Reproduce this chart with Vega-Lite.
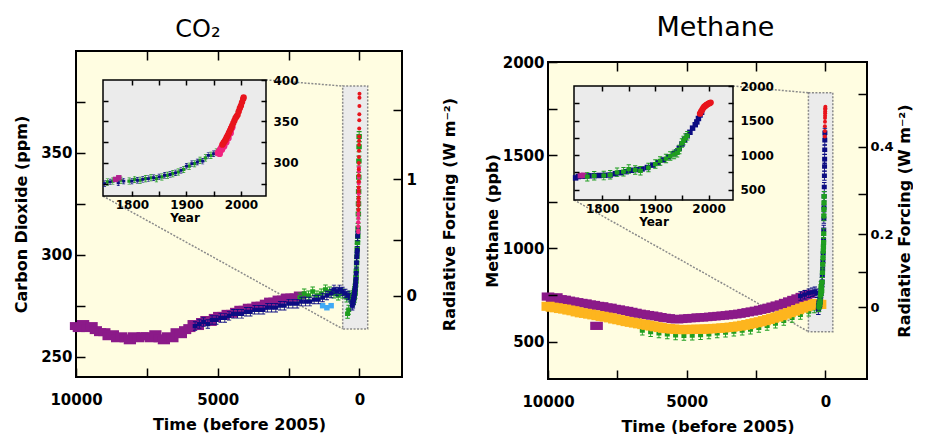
{
"$schema": "https://vega.github.io/schema/vega-lite/v6.json",
"background": "white",
"padding": {"left": 12, "top": 14, "right": 0, "bottom": 0},
"spacing": 25,
"config": {
  "view": {"fill": "#fffde1", "stroke": "black", "strokeWidth": 2},
  "axis": {"labelFont": "DejaVu Sans", "labelFontWeight": "bold", "labelFontSize": 15, "labelColor": "black",
           "titleFont": "DejaVu Sans", "titleFontWeight": "bold", "titleFontSize": 16, "titleColor": "black",
           "tickColor": "black", "tickWidth": 1.5, "domain": false, "grid": false, "labelFlush": false, "labelOverlap": false, "labelBound": false},
  "title": {"font": "DejaVu Sans", "fontWeight": "normal", "color": "black", "frame": "group"}
},
"datasets": {
  "co2m": [
    {"t":10000,"v":265,"s":"p"},{"t":9900,"v":264,"s":"p"},{"t":9750,"v":266,"s":"p"},{"t":9600,"v":264,"s":"p"},{"t":9450,"v":265,"s":"p"},{"t":9300,"v":263,"s":"p"},{"t":9150,"v":262,"s":"p"},{"t":9000,"v":262,"s":"p"},{"t":8850,"v":260,"s":"p"},{"t":8700,"v":261,"s":"p"},{"t":8550,"v":259,"s":"p"},{"t":8400,"v":260,"s":"p"},{"t":8250,"v":259,"s":"p"},{"t":8100,"v":258,"s":"p"},{"t":7950,"v":260,"s":"p"},{"t":7800,"v":259,"s":"p"},{"t":7650,"v":260,"s":"p"},{"t":7500,"v":260,"s":"p"},{"t":7350,"v":259,"s":"p"},{"t":7200,"v":261,"s":"p"},{"t":7050,"v":259,"s":"p"},{"t":6900,"v":258,"s":"p"},{"t":6750,"v":260,"s":"p"},{"t":6600,"v":259,"s":"p"},{"t":6450,"v":262,"s":"p"},{"t":6300,"v":261,"s":"p"},{"t":6150,"v":263,"s":"p"},{"t":6000,"v":264,"s":"p"},{"t":5850,"v":266,"s":"p"},{"t":5700,"v":265,"s":"p"},{"t":5550,"v":267,"s":"p"},{"t":5400,"v":268,"s":"p"},{"t":5250,"v":267,"s":"p"},{"t":5100,"v":269,"s":"p"},{"t":4950,"v":270,"s":"p"},{"t":4800,"v":270,"s":"p"},{"t":4650,"v":271,"s":"p"},{"t":4500,"v":271,"s":"p"},{"t":4350,"v":272,"s":"p"},{"t":4200,"v":273,"s":"p"},{"t":4050,"v":273,"s":"p"},{"t":3900,"v":274,"s":"p"},{"t":3750,"v":274,"s":"p"},{"t":3600,"v":275,"s":"p"},{"t":3450,"v":275,"s":"p"},{"t":3300,"v":276,"s":"p"},{"t":3150,"v":277,"s":"p"},{"t":3000,"v":277,"s":"p"},{"t":2850,"v":278,"s":"p"},{"t":2700,"v":278,"s":"p"},{"t":2550,"v":279,"s":"p"},{"t":2400,"v":279,"s":"p"},{"t":2250,"v":279,"s":"p"},{"t":2100,"v":280,"s":"p"},
    {"t":2100,"v":279,"s":"g"},{"t":1950,"v":281,"s":"g"},{"t":1800,"v":280,"s":"g"},{"t":1650,"v":282,"s":"g"},{"t":1500,"v":280,"s":"g"},{"t":1350,"v":281,"s":"g"},{"t":1200,"v":283,"s":"g"},{"t":1050,"v":282,"s":"g"},{"t":900,"v":281,"s":"g"},{"t":750,"v":280,"s":"g"},{"t":600,"v":281,"s":"g"},{"t":450,"v":279,"s":"g"},{"t":420,"v":271,"s":"g"},{"t":380,"v":273,"s":"g"},{"t":350,"v":280,"s":"g"},
    {"t":1300,"v":275,"s":"b"},{"t":1150,"v":274,"s":"b"},{"t":1000,"v":275,"s":"b"},
    {"t":5800,"v":265,"s":"n"},{"t":5650,"v":266,"s":"n"},{"t":5500,"v":267,"s":"n"},{"t":5350,"v":266,"s":"n"},{"t":5200,"v":268,"s":"n"},{"t":5050,"v":268,"s":"n"},{"t":4900,"v":269,"s":"n"},{"t":4750,"v":269,"s":"n"},{"t":4600,"v":270,"s":"n"},{"t":4450,"v":271,"s":"n"},{"t":4300,"v":271,"s":"n"},{"t":4150,"v":271,"s":"n"},{"t":4000,"v":272,"s":"n"},{"t":3850,"v":272,"s":"n"},{"t":3700,"v":273,"s":"n"},{"t":3550,"v":273,"s":"n"},{"t":3400,"v":273,"s":"n"},{"t":3250,"v":274,"s":"n"},{"t":3100,"v":274,"s":"n"},{"t":2950,"v":274,"s":"n"},{"t":2800,"v":275,"s":"n"},{"t":2650,"v":275,"s":"n"},{"t":2500,"v":276,"s":"n"},{"t":2350,"v":276,"s":"n"},{"t":2200,"v":276,"s":"n"},{"t":2050,"v":277,"s":"n"},{"t":1900,"v":277,"s":"n"},{"t":1750,"v":277,"s":"n"},{"t":1600,"v":278,"s":"n"},{"t":1450,"v":278,"s":"n"},{"t":1300,"v":279,"s":"n"},{"t":1150,"v":280,"s":"n"},{"t":1000,"v":281,"s":"n"},{"t":900,"v":283,"s":"n"},{"t":800,"v":282,"s":"n"},{"t":700,"v":283,"s":"n"},{"t":600,"v":282,"s":"n"},{"t":500,"v":281,"s":"n"},{"t":400,"v":280,"s":"n"},{"t":320,"v":279,"s":"n"},{"t":280,"v":277,"s":"n"}
  ],
  "co2r": [
    {"yr":1750,"t":255,"v":275,"s":"n"},{"yr":1760,"t":245,"v":277,"s":"n"},{"yr":1775,"t":230,"v":276,"s":"n"},{"yr":1785,"t":220,"v":278,"s":"n"},{"yr":1800,"t":205,"v":278,"s":"n"},{"yr":1810,"t":195,"v":279,"s":"n"},{"yr":1820,"t":185,"v":280,"s":"n"},{"yr":1830,"t":175,"v":281,"s":"n"},{"yr":1840,"t":165,"v":282,"s":"n"},{"yr":1850,"t":155,"v":283,"s":"n"},{"yr":1860,"t":145,"v":285,"s":"n"},{"yr":1870,"t":135,"v":286,"s":"n"},{"yr":1880,"t":125,"v":288,"s":"n"},{"yr":1890,"t":115,"v":291,"s":"n"},{"yr":1900,"t":105,"v":296,"s":"n"},{"yr":1910,"t":95,"v":299,"s":"n"},{"yr":1920,"t":85,"v":301,"s":"n"},{"yr":1930,"t":75,"v":302,"s":"n"},{"yr":1940,"t":65,"v":309,"s":"n"},{"yr":1950,"t":55,"v":311,"s":"n"},
    {"yr":1755,"t":250,"v":277,"s":"g"},{"yr":1765,"t":240,"v":278,"s":"g"},{"yr":1780,"t":225,"v":279,"s":"g"},{"yr":1795,"t":210,"v":278,"s":"g"},{"yr":1805,"t":200,"v":280,"s":"g"},{"yr":1815,"t":190,"v":279,"s":"g"},{"yr":1825,"t":180,"v":281,"s":"g"},{"yr":1835,"t":170,"v":282,"s":"g"},{"yr":1845,"t":160,"v":281,"s":"g"},{"yr":1855,"t":150,"v":283,"s":"g"},{"yr":1865,"t":140,"v":285,"s":"g"},{"yr":1875,"t":130,"v":287,"s":"g"},{"yr":1885,"t":120,"v":289,"s":"g"},{"yr":1895,"t":110,"v":292,"s":"g"},{"yr":1905,"t":100,"v":296,"s":"g"},{"yr":1915,"t":90,"v":299,"s":"g"},{"yr":1925,"t":80,"v":303,"s":"g"},{"yr":1935,"t":70,"v":306,"s":"g"},{"yr":1945,"t":60,"v":309,"s":"g"},{"yr":1955,"t":50,"v":313,"s":"g"},{"yr":1965,"t":40,"v":320,"s":"g"},{"yr":1970,"t":35,"v":325,"s":"g"},{"yr":1975,"t":30,"v":331,"s":"g"},{"yr":1980,"t":25,"v":338,"s":"g"},{"yr":1985,"t":20,"v":346,"s":"g"},{"yr":1990,"t":15,"v":353,"s":"g"},{"yr":1993,"t":12,"v":358,"s":"g"},
    {"yr":1770,"t":235,"v":280,"s":"p"},{"yr":1776,"t":229,"v":282,"s":"p"},
    {"yr":1958,"t":47,"v":312,"s":"k"},{"yr":1960,"t":45,"v":314,"s":"k"},{"yr":1962,"t":43,"v":316,"s":"k"},{"yr":1964,"t":41,"v":318,"s":"k"},{"yr":1966,"t":39,"v":320,"s":"k"},{"yr":1968,"t":37,"v":322,"s":"k"},{"yr":1970,"t":35,"v":325,"s":"k"},{"yr":1972,"t":33,"v":327,"s":"k"},{"yr":1974,"t":31,"v":330,"s":"k"},{"yr":1976,"t":29,"v":332,"s":"k"},{"yr":1978,"t":27,"v":335,"s":"k"},{"yr":1980,"t":25,"v":338,"s":"k"},{"yr":1982,"t":23,"v":341,"s":"k"},{"yr":1984,"t":21,"v":343,"s":"k"},{"yr":1961,"t":44,"v":311,"s":"k"},{"yr":1965,"t":40,"v":316,"s":"k"},{"yr":1969,"t":36,"v":320,"s":"k"},{"yr":1973,"t":32,"v":325,"s":"k"},{"yr":1977,"t":28,"v":330,"s":"k"},{"yr":1981,"t":24,"v":336,"s":"k"},
    {"yr":1966,"t":39,"v":322,"s":"r"},{"yr":1968,"t":37,"v":324,"s":"r"},{"yr":1970,"t":35,"v":326,"s":"r"},{"yr":1972,"t":33,"v":328,"s":"r"},{"yr":1974,"t":31,"v":331,"s":"r"},{"yr":1976,"t":29,"v":333,"s":"r"},{"yr":1978,"t":27,"v":336,"s":"r"},{"yr":1980,"t":25,"v":339,"s":"r"},{"yr":1982,"t":23,"v":342,"s":"r"},{"yr":1984,"t":21,"v":345,"s":"r"},{"yr":1986,"t":19,"v":348,"s":"r"},{"yr":1988,"t":17,"v":351,"s":"r"},{"yr":1990,"t":15,"v":354,"s":"r"},{"yr":1992,"t":13,"v":356,"s":"r"},{"yr":1994,"t":11,"v":358,"s":"r"},{"yr":1996,"t":9,"v":362,"s":"r"},{"yr":1998,"t":7,"v":366,"s":"r"},{"yr":2000,"t":5,"v":369,"s":"r"},{"yr":2002,"t":3,"v":373,"s":"r"},{"yr":2004,"t":1,"v":377,"s":"r"},{"yr":2005,"t":0,"v":379,"s":"r"}
  ],
  "co2box": [{"t1":592,"t2":-290,"v1":263.6,"v2":382.8}],
  "co2conn": [{"t1":9048,"v1":328.8,"t2":592,"v2":263.6},{"t1":3298,"v1":385.8,"t2":592,"v2":382.8}],
  "co2inset": [{"x1":1747,"x2":2046,"v1":260,"v2":400}],
  "ch4frame": [{"t1":10000,"t2":-1500,"v1":300,"v2":2000}],
  "ch4m": [
    {"t":6700,"v":645,"s":"g"},{"t":6600,"v":560,"s":"g"},{"t":6300,"v":552,"s":"g"},{"t":6000,"v":545,"s":"g"},{"t":5700,"v":540,"s":"g"},{"t":5400,"v":535,"s":"g"},{"t":5100,"v":532,"s":"g"},{"t":4800,"v":533,"s":"g"},{"t":4500,"v":536,"s":"g"},{"t":4200,"v":540,"s":"g"},{"t":3900,"v":545,"s":"g"},{"t":3600,"v":550,"s":"g"},{"t":3300,"v":555,"s":"g"},{"t":3000,"v":560,"s":"g"},{"t":2700,"v":566,"s":"g"},{"t":2400,"v":575,"s":"g"},{"t":2100,"v":585,"s":"g"},{"t":1800,"v":598,"s":"g"},{"t":1500,"v":612,"s":"g"},{"t":1200,"v":628,"s":"g"},{"t":900,"v":645,"s":"g"},{"t":600,"v":662,"s":"g"},{"t":400,"v":680,"s":"g"},{"t":250,"v":690,"s":"g"},
    {"t":10000,"v":742,"s":"p"},{"t":9850,"v":735,"s":"p"},{"t":9700,"v":738,"s":"p"},{"t":9550,"v":728,"s":"p"},{"t":9400,"v":725,"s":"p"},{"t":9250,"v":720,"s":"p"},{"t":9100,"v":716,"s":"p"},{"t":8950,"v":712,"s":"p"},{"t":8800,"v":708,"s":"p"},{"t":8650,"v":705,"s":"p"},{"t":8500,"v":700,"s":"p"},{"t":8350,"v":697,"s":"p"},{"t":8250,"v":585,"s":"p"},{"t":8200,"v":692,"s":"p"},{"t":8050,"v":690,"s":"p"},{"t":7900,"v":684,"s":"p"},{"t":7750,"v":682,"s":"p"},{"t":7600,"v":676,"s":"p"},{"t":7450,"v":673,"s":"p"},{"t":7300,"v":668,"s":"p"},{"t":7150,"v":665,"s":"p"},{"t":7000,"v":660,"s":"p"},{"t":6850,"v":655,"s":"p"},{"t":6700,"v":650,"s":"p"},{"t":6550,"v":647,"s":"p"},{"t":6400,"v":643,"s":"p"},{"t":6250,"v":640,"s":"p"},{"t":6100,"v":636,"s":"p"},{"t":5950,"v":632,"s":"p"},{"t":5800,"v":628,"s":"p"},{"t":5650,"v":626,"s":"p"},{"t":5500,"v":622,"s":"p"},{"t":5350,"v":620,"s":"p"},{"t":5200,"v":622,"s":"p"},{"t":5050,"v":624,"s":"p"},{"t":4900,"v":626,"s":"p"},{"t":4750,"v":627,"s":"p"},{"t":4600,"v":630,"s":"p"},{"t":4450,"v":630,"s":"p"},{"t":4300,"v":632,"s":"p"},{"t":4150,"v":634,"s":"p"},{"t":4000,"v":636,"s":"p"},{"t":3850,"v":638,"s":"p"},{"t":3700,"v":640,"s":"p"},{"t":3550,"v":642,"s":"p"},{"t":3400,"v":645,"s":"p"},{"t":3250,"v":647,"s":"p"},{"t":3100,"v":650,"s":"p"},{"t":2950,"v":654,"s":"p"},{"t":2800,"v":658,"s":"p"},{"t":2650,"v":662,"s":"p"},{"t":2500,"v":666,"s":"p"},{"t":2350,"v":671,"s":"p"},{"t":2200,"v":676,"s":"p"},{"t":2050,"v":682,"s":"p"},{"t":1900,"v":688,"s":"p"},{"t":1750,"v":694,"s":"p"},{"t":1600,"v":700,"s":"p"},{"t":1450,"v":708,"s":"p"},{"t":1300,"v":716,"s":"p"},{"t":1150,"v":724,"s":"p"},{"t":1000,"v":732,"s":"p"},{"t":850,"v":740,"s":"p"},{"t":700,"v":748,"s":"p"},{"t":580,"v":756,"s":"p"},
    {"t":10000,"v":690,"s":"o"},{"t":9850,"v":685,"s":"o"},{"t":9700,"v":682,"s":"o"},{"t":9550,"v":678,"s":"o"},{"t":9400,"v":675,"s":"o"},{"t":9250,"v":670,"s":"o"},{"t":9100,"v":666,"s":"o"},{"t":8950,"v":660,"s":"o"},{"t":8800,"v":655,"s":"o"},{"t":8650,"v":652,"s":"o"},{"t":8500,"v":648,"s":"o"},{"t":8350,"v":644,"s":"o"},{"t":8200,"v":640,"s":"o"},{"t":8050,"v":636,"s":"o"},{"t":7900,"v":632,"s":"o"},{"t":7750,"v":628,"s":"o"},{"t":7600,"v":622,"s":"o"},{"t":7450,"v":618,"s":"o"},{"t":7300,"v":613,"s":"o"},{"t":7150,"v":608,"s":"o"},{"t":7000,"v":604,"s":"o"},{"t":6850,"v":600,"s":"o"},{"t":6700,"v":596,"s":"o"},{"t":6550,"v":592,"s":"o"},{"t":6400,"v":588,"s":"o"},{"t":6250,"v":584,"s":"o"},{"t":6100,"v":580,"s":"o"},{"t":5950,"v":576,"s":"o"},{"t":5800,"v":572,"s":"o"},{"t":5650,"v":570,"s":"o"},{"t":5500,"v":568,"s":"o"},{"t":5350,"v":566,"s":"o"},{"t":5200,"v":565,"s":"o"},{"t":5050,"v":565,"s":"o"},{"t":4900,"v":566,"s":"o"},{"t":4750,"v":566,"s":"o"},{"t":4600,"v":567,"s":"o"},{"t":4450,"v":567,"s":"o"},{"t":4300,"v":568,"s":"o"},{"t":4150,"v":569,"s":"o"},{"t":4000,"v":571,"s":"o"},{"t":3850,"v":572,"s":"o"},{"t":3700,"v":574,"s":"o"},{"t":3550,"v":576,"s":"o"},{"t":3400,"v":578,"s":"o"},{"t":3250,"v":581,"s":"o"},{"t":3100,"v":584,"s":"o"},{"t":2950,"v":588,"s":"o"},{"t":2800,"v":592,"s":"o"},{"t":2650,"v":597,"s":"o"},{"t":2500,"v":602,"s":"o"},{"t":2350,"v":607,"s":"o"},{"t":2200,"v":613,"s":"o"},{"t":2050,"v":619,"s":"o"},{"t":1900,"v":626,"s":"o"},{"t":1750,"v":632,"s":"o"},{"t":1600,"v":640,"s":"o"},{"t":1450,"v":648,"s":"o"},{"t":1300,"v":656,"s":"o"},{"t":1150,"v":664,"s":"o"},{"t":1000,"v":672,"s":"o"},{"t":850,"v":680,"s":"o"},{"t":700,"v":688,"s":"o"},{"t":550,"v":695,"s":"o"},{"t":400,"v":700,"s":"o"},{"t":300,"v":705,"s":"o"},{"t":200,"v":700,"s":"o"},
    {"t":900,"v":745,"s":"n"},{"t":750,"v":752,"s":"n"},{"t":600,"v":760,"s":"n"},{"t":480,"v":765,"s":"n"},{"t":380,"v":770,"s":"n"},{"t":300,"v":760,"s":"n"}
  ],
  "ch4r": [
    {"yr":1750,"t":255,"v":670,"s":"n"},{"yr":1755,"t":250,"v":690,"s":"n"},{"yr":1765,"t":240,"v":695,"s":"n"},{"yr":1775,"t":230,"v":700,"s":"n"},{"yr":1785,"t":220,"v":702,"s":"n"},{"yr":1795,"t":210,"v":705,"s":"n"},{"yr":1805,"t":200,"v":708,"s":"n"},{"yr":1815,"t":190,"v":712,"s":"n"},{"yr":1825,"t":180,"v":730,"s":"n"},{"yr":1835,"t":170,"v":745,"s":"n"},{"yr":1845,"t":160,"v":760,"s":"n"},{"yr":1855,"t":150,"v":780,"s":"n"},{"yr":1865,"t":140,"v":790,"s":"n"},{"yr":1875,"t":130,"v":800,"s":"n"},{"yr":1885,"t":120,"v":820,"s":"n"},{"yr":1895,"t":110,"v":855,"s":"n"},{"yr":1905,"t":100,"v":890,"s":"n"},{"yr":1915,"t":90,"v":930,"s":"n"},{"yr":1925,"t":80,"v":975,"s":"n"},{"yr":1935,"t":70,"v":1020,"s":"n"},{"yr":1940,"t":65,"v":1045,"s":"n"},{"yr":1945,"t":60,"v":1100,"s":"n"},{"yr":1950,"t":55,"v":1160,"s":"n"},{"yr":1955,"t":50,"v":1220,"s":"n"},{"yr":1960,"t":45,"v":1280,"s":"n"},{"yr":1965,"t":40,"v":1330,"s":"n"},{"yr":1970,"t":35,"v":1390,"s":"n"},{"yr":1975,"t":30,"v":1440,"s":"n"},{"yr":1978,"t":27,"v":1480,"s":"n"},{"yr":1981,"t":24,"v":1530,"s":"n"},{"yr":1984,"t":21,"v":1580,"s":"n"},{"yr":1987,"t":18,"v":1620,"s":"n"},
    {"yr":1772,"t":233,"v":688,"s":"g"},{"yr":1785,"t":220,"v":700,"s":"g"},{"yr":1803,"t":202,"v":703,"s":"g"},{"yr":1815,"t":190,"v":715,"s":"g"},{"yr":1828,"t":177,"v":750,"s":"g"},{"yr":1840,"t":165,"v":760,"s":"g"},{"yr":1850,"t":155,"v":797,"s":"g"},{"yr":1862,"t":143,"v":785,"s":"g"},{"yr":1872,"t":133,"v":773,"s":"g"},{"yr":1887,"t":118,"v":820,"s":"g"},{"yr":1900,"t":105,"v":870,"s":"g"},{"yr":1909,"t":96,"v":915,"s":"g"},{"yr":1920,"t":85,"v":950,"s":"g"},{"yr":1928,"t":77,"v":986,"s":"g"},{"yr":1935,"t":70,"v":1010,"s":"g"},{"yr":1941,"t":64,"v":1033,"s":"g"},{"yr":1945,"t":60,"v":1080,"s":"g"},{"yr":1950,"t":55,"v":1174,"s":"g"},{"yr":1953,"t":52,"v":1210,"s":"g"},{"yr":1956,"t":49,"v":1245,"s":"g"},{"yr":1960,"t":45,"v":1280,"s":"g"},
    {"yr":1759,"t":246,"v":703,"s":"p"},{"yr":1765,"t":240,"v":708,"s":"p"},
    {"yr":1984,"t":21,"v":1600,"s":"r"},{"yr":1986,"t":19,"v":1630,"s":"r"},{"yr":1988,"t":17,"v":1655,"s":"r"},{"yr":1990,"t":15,"v":1680,"s":"r"},{"yr":1992,"t":13,"v":1700,"s":"r"},{"yr":1994,"t":11,"v":1712,"s":"r"},{"yr":1996,"t":9,"v":1725,"s":"r"},{"yr":1998,"t":7,"v":1735,"s":"r"},{"yr":2000,"t":5,"v":1745,"s":"r"},{"yr":2002,"t":3,"v":1752,"s":"r"},{"yr":2004,"t":1,"v":1760,"s":"r"}
  ],
  "ch4box": [{"t1":612,"t2":-268,"v1":554,"v2":1835}],
  "ch4conn": [{"t1":9063,"v1":1260,"t2":612,"v2":554},{"t1":3331,"v1":1871,"t2":612,"v2":1835}],
  "ch4inset": [{"x1":1747,"x2":2046,"v1":350,"v2":2000}]
},
"hconcat": [
{
  "title": {"text": "CO₂", "fontSize": 24, "dx": -41, "offset": 8},
  "width": 326, "height": 326,
  "resolve": {"scale": {"x": "independent", "y": "independent"}},
  "layer": [
    {
      "resolve": {"axis": {"x": "independent", "y": "independent"}},
      "layer": [
        {"data": {"name": "co2box"},
         "mark": {"type": "rect", "fill": "#ebebeb", "stroke": "#8a8a8a", "strokeDash": [2, 1.5], "strokeWidth": 1.5},
         "encoding": {
           "x": {"field": "t1", "type": "quantitative", "scale": {"domain": [10000, -1500], "nice": false, "zero": false},
                 "axis": {"zindex": 1, "orient": "bottom", "values": [10000, 7500, 5000, 2500, 0], "format": "d", "labelExpr": "datum.value % 5000 == 0 ? datum.label : ''", "tickSize": -9, "labelPadding": 24, "title": "Time (before 2005)", "titlePadding": 9}},
           "x2": {"field": "t2"},
           "y": {"field": "v1", "type": "quantitative", "scale": {"domain": [240, 400], "nice": false, "zero": false},
                 "axis": {"zindex": 1, "orient": "left", "values": [250, 275, 300, 325, 350, 375], "labelExpr": "datum.value % 50 == 0 ? datum.label : ''", "tickSize": -9, "labelPadding": 13, "title": "Carbon Dioxide (ppm)", "titlePadding": 11}},
           "y2": {"field": "v2"}}},
        {"data": {"name": "co2conn"},
         "mark": {"type": "rule", "stroke": "#8a8a8a", "strokeDash": [2, 1.5], "strokeWidth": 1.5},
         "encoding": {
           "x": {"field": "t1", "type": "quantitative", "scale": {"domain": [10000, -1500], "nice": false, "zero": false},
                 "axis": {"zindex": 1, "orient": "top", "values": [7500, 5000, 2500, 0], "labels": false, "tickSize": -9, "title": null}},
           "x2": {"field": "t2"},
           "y": {"field": "v1", "type": "quantitative", "scale": {"domain": [240, 400], "nice": false, "zero": false},
                 "axis": {"zindex": 1, "orient": "right", "values": [280, 307, 337, 371], "labelExpr": "datum.value == 280 ? '0' : (datum.value == 337 ? '1' : '')", "tickSize": -9, "labelPadding": 13, "title": "Radiative Forcing (W m⁻²)", "titleAngle": 270, "titleBaseline": "top", "titlePadding": 25}},
           "y2": {"field": "v2"}}},
        {"data": {"name": "co2m"}, "transform": [{"filter": "datum.s == 'p'"}],
         "mark": {"type": "point", "filled": true, "opacity": 1, "strokeWidth": 0, "shape": "M-1,-0.65H1V0.65H-1Z", "size": 150, "color": "#8b1a89"},
         "encoding": {"x": {"field": "t", "type": "quantitative", "scale": {"domain": [10000, -1500], "nice": false, "zero": false}, "axis": null},
                      "y": {"field": "v", "type": "quantitative", "scale": {"domain": [240, 400], "nice": false, "zero": false}, "axis": null}}},
        {"data": {"name": "co2m"}, "transform": [{"filter": "datum.s == 'g'"}],
         "mark": {"type": "point", "filled": true, "opacity": 1, "strokeWidth": 0, "shape": "M-0.5,-0.45H0.5V0.45H-0.5Z M-0.09,-1H0.09V1H-0.09Z M-0.45,-1H0.45V-0.8H-0.45Z M-0.45,0.8H0.45V1H-0.45Z", "size": 100, "color": "#1f9e1f"},
         "encoding": {"x": {"field": "t", "type": "quantitative", "scale": {"domain": [10000, -1500], "nice": false, "zero": false}, "axis": null},
                      "y": {"field": "v", "type": "quantitative", "scale": {"domain": [240, 400], "nice": false, "zero": false}, "axis": null}}},
        {"data": {"name": "co2m"}, "transform": [{"filter": "datum.s == 'b'"}],
         "mark": {"type": "point", "filled": true, "opacity": 1, "strokeWidth": 0, "shape": "square", "size": 30, "color": "#3fa9f5"},
         "encoding": {"x": {"field": "t", "type": "quantitative", "scale": {"domain": [10000, -1500], "nice": false, "zero": false}, "axis": null},
                      "y": {"field": "v", "type": "quantitative", "scale": {"domain": [240, 400], "nice": false, "zero": false}, "axis": null}}},
        {"data": {"name": "co2m"}, "transform": [{"filter": "datum.s == 'n'"}],
         "mark": {"type": "point", "filled": true, "opacity": 1, "strokeWidth": 0, "shape": "M-0.5,-0.45H0.5V0.45H-0.5Z M-0.09,-1H0.09V1H-0.09Z M-0.45,-1H0.45V-0.8H-0.45Z M-0.45,0.8H0.45V1H-0.45Z", "size": 90, "color": "#0c0c82"},
         "encoding": {"x": {"field": "t", "type": "quantitative", "scale": {"domain": [10000, -1500], "nice": false, "zero": false}, "axis": null},
                      "y": {"field": "v", "type": "quantitative", "scale": {"domain": [240, 400], "nice": false, "zero": false}, "axis": null}}},
        {"data": {"name": "co2r"}, "transform": [{"filter": "datum.s == 'g'"}],
         "mark": {"type": "point", "filled": true, "opacity": 1, "strokeWidth": 0, "shape": "M-0.5,-0.45H0.5V0.45H-0.5Z M-0.09,-1H0.09V1H-0.09Z M-0.45,-1H0.45V-0.8H-0.45Z M-0.45,0.8H0.45V1H-0.45Z", "size": 120, "color": "#1f9e1f"},
         "encoding": {"x": {"field": "t", "type": "quantitative", "scale": {"domain": [10000, -1500], "nice": false, "zero": false}, "axis": null},
                      "y": {"field": "v", "type": "quantitative", "scale": {"domain": [240, 400], "nice": false, "zero": false}, "axis": null}}},
        {"data": {"name": "co2r"}, "transform": [{"filter": "datum.s == 'n'"}],
         "mark": {"type": "point", "filled": true, "opacity": 1, "strokeWidth": 0, "shape": "M-0.5,-0.45H0.5V0.45H-0.5Z M-0.09,-1H0.09V1H-0.09Z M-0.45,-1H0.45V-0.8H-0.45Z M-0.45,0.8H0.45V1H-0.45Z", "size": 90, "color": "#0c0c82"},
         "encoding": {"x": {"field": "t", "type": "quantitative", "scale": {"domain": [10000, -1500], "nice": false, "zero": false}, "axis": null},
                      "y": {"field": "v", "type": "quantitative", "scale": {"domain": [240, 400], "nice": false, "zero": false}, "axis": null}}},
        {"data": {"name": "co2r"}, "transform": [{"filter": "datum.s == 'k'"}],
         "mark": {"type": "point", "filled": true, "opacity": 1, "strokeWidth": 0, "shape": "circle", "size": 16, "color": "#f0237f"},
         "encoding": {"x": {"field": "t", "type": "quantitative", "scale": {"domain": [10000, -1500], "nice": false, "zero": false}, "axis": null},
                      "y": {"field": "v", "type": "quantitative", "scale": {"domain": [240, 400], "nice": false, "zero": false}, "axis": null}}},
        {"data": {"name": "co2r"}, "transform": [{"filter": "datum.s == 'r'"}],
         "mark": {"type": "point", "filled": true, "opacity": 1, "strokeWidth": 0, "shape": "circle", "size": 16, "color": "#e8141c"},
         "encoding": {"x": {"field": "t", "type": "quantitative", "scale": {"domain": [10000, -1500], "nice": false, "zero": false}, "axis": null},
                      "y": {"field": "v", "type": "quantitative", "scale": {"domain": [240, 400], "nice": false, "zero": false}, "axis": null}}}
      ]
    },
    {
      "resolve": {"axis": {"x": "independent", "y": "independent"}},
      "layer": [
        {"data": {"name": "co2inset"},
         "mark": {"type": "rect", "fill": "#ebebeb", "stroke": "black", "strokeWidth": 1.5},
         "encoding": {
           "x": {"field": "x1", "type": "quantitative", "scale": {"domain": [1747, 2046], "range": [27, 190], "nice": false, "zero": false},
                 "axis": {"zindex": 1, "orient": "bottom", "offset": -181, "values": [1800, 1850, 1900, 1950, 2000], "format": "d", "labelExpr": "datum.value % 100 == 0 ? datum.label : ''", "tickSize": -5, "labelFontSize": 12, "labelPadding": 8, "title": "Year", "titleFontSize": 12, "titlePadding": 2}},
           "x2": {"field": "x2"},
           "y": {"field": "v1", "type": "quantitative", "scale": {"domain": [260, 400], "range": [145, 29], "nice": false, "zero": false},
                 "axis": {"zindex": 1, "orient": "right", "offset": -136, "values": [275, 300, 325, 350, 375, 400], "labelExpr": "datum.value % 50 == 0 ? datum.label : ''", "tickSize": -5, "labelFontSize": 12, "labelPadding": 12, "title": null}},
           "y2": {"field": "v2"}}},
        {"data": {"name": "co2r"}, "transform": [{"filter": "datum.s == 'g'"}],
         "mark": {"type": "point", "filled": true, "opacity": 1, "strokeWidth": 0, "shape": "M-0.5,-0.45H0.5V0.45H-0.5Z M-0.09,-1H0.09V1H-0.09Z M-0.45,-1H0.45V-0.8H-0.45Z M-0.45,0.8H0.45V1H-0.45Z", "size": 50, "color": "#1f9e1f"},
         "encoding": {"x": {"field": "yr", "type": "quantitative", "scale": {"domain": [1747, 2046], "range": [27, 190], "nice": false, "zero": false},
                            "axis": {"zindex": 1, "orient": "top", "offset": -29, "values": [1800, 1850, 1900, 1950, 2000], "labels": false, "tickSize": -5, "title": null}},
                      "y": {"field": "v", "type": "quantitative", "scale": {"domain": [260, 400], "range": [145, 29], "nice": false, "zero": false},
                            "axis": {"zindex": 1, "orient": "left", "offset": -27, "values": [275, 300, 325, 350, 375], "labels": false, "tickSize": -5, "title": null}}}},
        {"data": {"name": "co2r"}, "transform": [{"filter": "datum.s == 'n'"}],
         "mark": {"type": "point", "filled": true, "opacity": 1, "strokeWidth": 0, "shape": "M-0.5,-0.45H0.5V0.45H-0.5Z M-0.09,-1H0.09V1H-0.09Z M-0.45,-1H0.45V-0.8H-0.45Z M-0.45,0.8H0.45V1H-0.45Z", "size": 40, "color": "#0c0c82"},
         "encoding": {"x": {"field": "yr", "type": "quantitative", "scale": {"domain": [1747, 2046], "range": [27, 190], "nice": false, "zero": false}, "axis": null},
                      "y": {"field": "v", "type": "quantitative", "scale": {"domain": [260, 400], "range": [145, 29], "nice": false, "zero": false}, "axis": null}}},
        {"data": {"name": "co2r"}, "transform": [{"filter": "datum.s == 'p'"}],
         "mark": {"type": "point", "filled": true, "opacity": 1, "strokeWidth": 0, "shape": "square", "size": 30, "color": "#b0208f"},
         "encoding": {"x": {"field": "yr", "type": "quantitative", "scale": {"domain": [1747, 2046], "range": [27, 190], "nice": false, "zero": false}, "axis": null},
                      "y": {"field": "v", "type": "quantitative", "scale": {"domain": [260, 400], "range": [145, 29], "nice": false, "zero": false}, "axis": null}}},
        {"data": {"name": "co2r"}, "transform": [{"filter": "datum.s == 'k'"}],
         "mark": {"type": "point", "filled": true, "opacity": 1, "strokeWidth": 0, "shape": "circle", "size": 45, "color": "#f0237f"},
         "encoding": {"x": {"field": "yr", "type": "quantitative", "scale": {"domain": [1747, 2046], "range": [27, 190], "nice": false, "zero": false}, "axis": null},
                      "y": {"field": "v", "type": "quantitative", "scale": {"domain": [260, 400], "range": [145, 29], "nice": false, "zero": false}, "axis": null}}},
        {"data": {"name": "co2r"}, "transform": [{"filter": "datum.s == 'r'"}],
         "mark": {"type": "point", "filled": true, "opacity": 1, "strokeWidth": 0, "shape": "circle", "size": 40, "color": "#e8141c"},
         "encoding": {"x": {"field": "yr", "type": "quantitative", "scale": {"domain": [1747, 2046], "range": [27, 190], "nice": false, "zero": false}, "axis": null},
                      "y": {"field": "v", "type": "quantitative", "scale": {"domain": [260, 400], "range": [145, 29], "nice": false, "zero": false}, "axis": null}}}
      ]
    }
  ]
},
{
  "title": {"text": "Methane", "fontSize": 27, "dx": 8, "offset": 9},
  "width": 319, "height": 328,
  "view": {"fill": null, "stroke": null},
  "resolve": {"scale": {"x": "independent", "y": "independent"}},
  "layer": [
    {
      "resolve": {"axis": {"x": "independent", "y": "independent"}},
      "layer": [
        {"data": {"name": "ch4frame"},
         "mark": {"type": "rect", "fill": "#fffde1", "stroke": "black", "strokeWidth": 2},
         "encoding": {
           "x": {"field": "t1", "type": "quantitative", "scale": {"domain": [10000, -1500], "nice": false, "zero": false},
                 "axis": {"zindex": 1, "orient": "bottom", "values": [10000, 7500, 5000, 2500, 0], "format": "d", "labelExpr": "datum.value % 5000 == 0 ? datum.label : ''", "tickSize": -9, "labelPadding": 24, "title": "Time (before 2005)", "titlePadding": 9}},
           "x2": {"field": "t2"},
           "y": {"field": "v1", "type": "quantitative", "scale": {"domain": [300, 2000], "range": [328, 11], "nice": false, "zero": false},
                 "axis": {"zindex": 1, "orient": "left", "values": [500, 750, 1000, 1250, 1500, 1750, 2000], "format": "d", "labelExpr": "datum.value % 500 == 0 ? datum.label : ''", "tickSize": -9, "labelPadding": 13, "title": "Methane (ppb)", "titlePadding": 2}},
           "y2": {"field": "v2"}}},
        {"data": {"name": "ch4box"},
         "mark": {"type": "rect", "fill": "#ebebeb", "stroke": "#8a8a8a", "strokeDash": [2, 1.5], "strokeWidth": 1.5},
         "encoding": {
           "x": {"field": "t1", "type": "quantitative", "scale": {"domain": [10000, -1500], "nice": false, "zero": false},
                 "axis": {"zindex": 1, "orient": "top", "offset": -11, "values": [7500, 5000, 2500, 0], "labels": false, "tickSize": -9, "title": null}},
           "x2": {"field": "t2"},
           "y": {"field": "v1", "type": "quantitative", "scale": {"domain": [300, 2000], "range": [328, 11], "nice": false, "zero": false},
                 "axis": {"zindex": 1, "orient": "right", "values": [686, 874, 1076, 1294, 1546, 1827], "labelExpr": "datum.value == 686 ? '0' : (datum.value == 1076 ? '0.2' : (datum.value == 1546 ? '0.4' : ''))", "tickSize": -9, "labelPadding": 12, "labelFontSize": 13, "title": "Radiative Forcing (W m⁻²)", "titleAngle": 270, "titleBaseline": "top", "titlePadding": 3}},
           "y2": {"field": "v2"}}},
        {"data": {"name": "ch4conn"},
         "mark": {"type": "rule", "stroke": "#8a8a8a", "strokeDash": [2, 1.5], "strokeWidth": 1.5},
         "encoding": {
           "x": {"field": "t1", "type": "quantitative", "scale": {"domain": [10000, -1500], "nice": false, "zero": false}, "axis": null},
           "x2": {"field": "t2"},
           "y": {"field": "v1", "type": "quantitative", "scale": {"domain": [300, 2000], "range": [328, 11], "nice": false, "zero": false}, "axis": null},
           "y2": {"field": "v2"}}},
        {"data": {"name": "ch4m"}, "transform": [{"filter": "datum.s == 'g'"}],
         "mark": {"type": "point", "filled": true, "opacity": 1, "strokeWidth": 0, "shape": "M-0.5,-0.45H0.5V0.45H-0.5Z M-0.09,-1H0.09V1H-0.09Z M-0.45,-1H0.45V-0.8H-0.45Z M-0.45,0.8H0.45V1H-0.45Z", "size": 100, "color": "#1f9e1f"},
         "encoding": {"x": {"field": "t", "type": "quantitative", "scale": {"domain": [10000, -1500], "nice": false, "zero": false}, "axis": null},
                      "y": {"field": "v", "type": "quantitative", "scale": {"domain": [300, 2000], "range": [328, 11], "nice": false, "zero": false}, "axis": null}}},
        {"data": {"name": "ch4m"}, "transform": [{"filter": "datum.s == 'p'"}],
         "mark": {"type": "point", "filled": true, "opacity": 1, "strokeWidth": 0, "shape": "M-1,-0.65H1V0.65H-1Z", "size": 160, "color": "#8b1a89"},
         "encoding": {"x": {"field": "t", "type": "quantitative", "scale": {"domain": [10000, -1500], "nice": false, "zero": false}, "axis": null},
                      "y": {"field": "v", "type": "quantitative", "scale": {"domain": [300, 2000], "range": [328, 11], "nice": false, "zero": false}, "axis": null}}},
        {"data": {"name": "ch4m"}, "transform": [{"filter": "datum.s == 'o'"}],
         "mark": {"type": "point", "filled": true, "opacity": 1, "strokeWidth": 0, "shape": "M-1,-0.7H1V0.7H-1Z", "size": 170, "color": "#fdb51e"},
         "encoding": {"x": {"field": "t", "type": "quantitative", "scale": {"domain": [10000, -1500], "nice": false, "zero": false}, "axis": null},
                      "y": {"field": "v", "type": "quantitative", "scale": {"domain": [300, 2000], "range": [328, 11], "nice": false, "zero": false}, "axis": null}}},
        {"data": {"name": "ch4m"}, "transform": [{"filter": "datum.s == 'n'"}],
         "mark": {"type": "point", "filled": true, "opacity": 1, "strokeWidth": 0, "shape": "M-0.5,-0.45H0.5V0.45H-0.5Z M-0.09,-1H0.09V1H-0.09Z M-0.45,-1H0.45V-0.8H-0.45Z M-0.45,0.8H0.45V1H-0.45Z", "size": 90, "color": "#0c0c82"},
         "encoding": {"x": {"field": "t", "type": "quantitative", "scale": {"domain": [10000, -1500], "nice": false, "zero": false}, "axis": null},
                      "y": {"field": "v", "type": "quantitative", "scale": {"domain": [300, 2000], "range": [328, 11], "nice": false, "zero": false}, "axis": null}}},
        {"data": {"name": "ch4r"}, "transform": [{"filter": "datum.s == 'n'"}],
         "mark": {"type": "point", "filled": true, "opacity": 1, "strokeWidth": 0, "shape": "M-0.5,-0.45H0.5V0.45H-0.5Z M-0.09,-1H0.09V1H-0.09Z M-0.45,-1H0.45V-0.8H-0.45Z M-0.45,0.8H0.45V1H-0.45Z", "size": 100, "color": "#0c0c82"},
         "encoding": {"x": {"field": "t", "type": "quantitative", "scale": {"domain": [10000, -1500], "nice": false, "zero": false}, "axis": null},
                      "y": {"field": "v", "type": "quantitative", "scale": {"domain": [300, 2000], "range": [328, 11], "nice": false, "zero": false}, "axis": null}}},
        {"data": {"name": "ch4r"}, "transform": [{"filter": "datum.s == 'g'"}],
         "mark": {"type": "point", "filled": true, "opacity": 1, "strokeWidth": 0, "shape": "M-0.5,-0.45H0.5V0.45H-0.5Z M-0.09,-1H0.09V1H-0.09Z M-0.45,-1H0.45V-0.8H-0.45Z M-0.45,0.8H0.45V1H-0.45Z", "size": 110, "color": "#1f9e1f"},
         "encoding": {"x": {"field": "t", "type": "quantitative", "scale": {"domain": [10000, -1500], "nice": false, "zero": false}, "axis": null},
                      "y": {"field": "v", "type": "quantitative", "scale": {"domain": [300, 2000], "range": [328, 11], "nice": false, "zero": false}, "axis": null}}},
        {"data": {"name": "ch4r"}, "transform": [{"filter": "datum.s == 'r'"}],
         "mark": {"type": "point", "filled": true, "opacity": 1, "strokeWidth": 0, "shape": "circle", "size": 16, "color": "#e8141c"},
         "encoding": {"x": {"field": "t", "type": "quantitative", "scale": {"domain": [10000, -1500], "nice": false, "zero": false}, "axis": null},
                      "y": {"field": "v", "type": "quantitative", "scale": {"domain": [300, 2000], "range": [328, 11], "nice": false, "zero": false}, "axis": null}}}
      ]
    },
    {
      "resolve": {"axis": {"x": "independent", "y": "independent"}},
      "layer": [
        {"data": {"name": "ch4inset"},
         "mark": {"type": "rect", "fill": "#ebebeb", "stroke": "black", "strokeWidth": 1.5},
         "encoding": {
           "x": {"field": "x1", "type": "quantitative", "scale": {"domain": [1747, 2046], "range": [26, 185], "nice": false, "zero": false},
                 "axis": {"zindex": 1, "orient": "bottom", "offset": -179, "values": [1800, 1850, 1900, 1950, 2000], "format": "d", "labelExpr": "datum.value % 100 == 0 ? datum.label : ''", "tickSize": -5, "labelFontSize": 12, "labelPadding": 8, "title": "Year", "titleFontSize": 12, "titlePadding": 2}},
           "x2": {"field": "x2"},
           "y": {"field": "v1", "type": "quantitative", "scale": {"domain": [350, 2000], "range": [149, 35], "nice": false, "zero": false},
                 "axis": {"zindex": 1, "orient": "right", "offset": -134, "values": [500, 750, 1000, 1250, 1500, 1750, 2000], "format": "d", "labelExpr": "datum.value % 500 == 0 ? datum.label : ''", "tickSize": -5, "labelFontSize": 12, "labelPadding": 12, "title": null}},
           "y2": {"field": "v2"}}},
        {"data": {"name": "ch4r"}, "transform": [{"filter": "datum.s == 'n'"}],
         "mark": {"type": "point", "filled": true, "opacity": 1, "strokeWidth": 0, "shape": "square", "size": 30, "color": "#0c0c82"},
         "encoding": {"x": {"field": "yr", "type": "quantitative", "scale": {"domain": [1747, 2046], "range": [26, 185], "nice": false, "zero": false},
                            "axis": {"zindex": 1, "orient": "top", "offset": -35, "values": [1800, 1850, 1900, 1950, 2000], "labels": false, "tickSize": -5, "title": null}},
                      "y": {"field": "v", "type": "quantitative", "scale": {"domain": [350, 2000], "range": [149, 35], "nice": false, "zero": false},
                            "axis": {"zindex": 1, "orient": "left", "offset": -26, "values": [500, 750, 1000, 1250, 1500, 1750], "labels": false, "tickSize": -5, "title": null}}}},
        {"data": {"name": "ch4r"}, "transform": [{"filter": "datum.s == 'p'"}],
         "mark": {"type": "point", "filled": true, "opacity": 1, "strokeWidth": 0, "shape": "square", "size": 30, "color": "#b0208f"},
         "encoding": {"x": {"field": "yr", "type": "quantitative", "scale": {"domain": [1747, 2046], "range": [26, 185], "nice": false, "zero": false}, "axis": null},
                      "y": {"field": "v", "type": "quantitative", "scale": {"domain": [350, 2000], "range": [149, 35], "nice": false, "zero": false}, "axis": null}}},
        {"data": {"name": "ch4r"}, "transform": [{"filter": "datum.s == 'g'"}],
         "mark": {"type": "point", "filled": true, "opacity": 1, "strokeWidth": 0, "shape": "M-0.5,-0.45H0.5V0.45H-0.5Z M-0.09,-1H0.09V1H-0.09Z M-0.45,-1H0.45V-0.8H-0.45Z M-0.45,0.8H0.45V1H-0.45Z", "size": 90, "color": "#1f9e1f"},
         "encoding": {"x": {"field": "yr", "type": "quantitative", "scale": {"domain": [1747, 2046], "range": [26, 185], "nice": false, "zero": false}, "axis": null},
                      "y": {"field": "v", "type": "quantitative", "scale": {"domain": [350, 2000], "range": [149, 35], "nice": false, "zero": false}, "axis": null}}},
        {"data": {"name": "ch4r"}, "transform": [{"filter": "datum.s == 'r'"}],
         "mark": {"type": "point", "filled": true, "opacity": 1, "strokeWidth": 0, "shape": "circle", "size": 40, "color": "#e8141c"},
         "encoding": {"x": {"field": "yr", "type": "quantitative", "scale": {"domain": [1747, 2046], "range": [26, 185], "nice": false, "zero": false}, "axis": null},
                      "y": {"field": "v", "type": "quantitative", "scale": {"domain": [350, 2000], "range": [149, 35], "nice": false, "zero": false}, "axis": null}}}
      ]
    }
  ]
}
]
}
